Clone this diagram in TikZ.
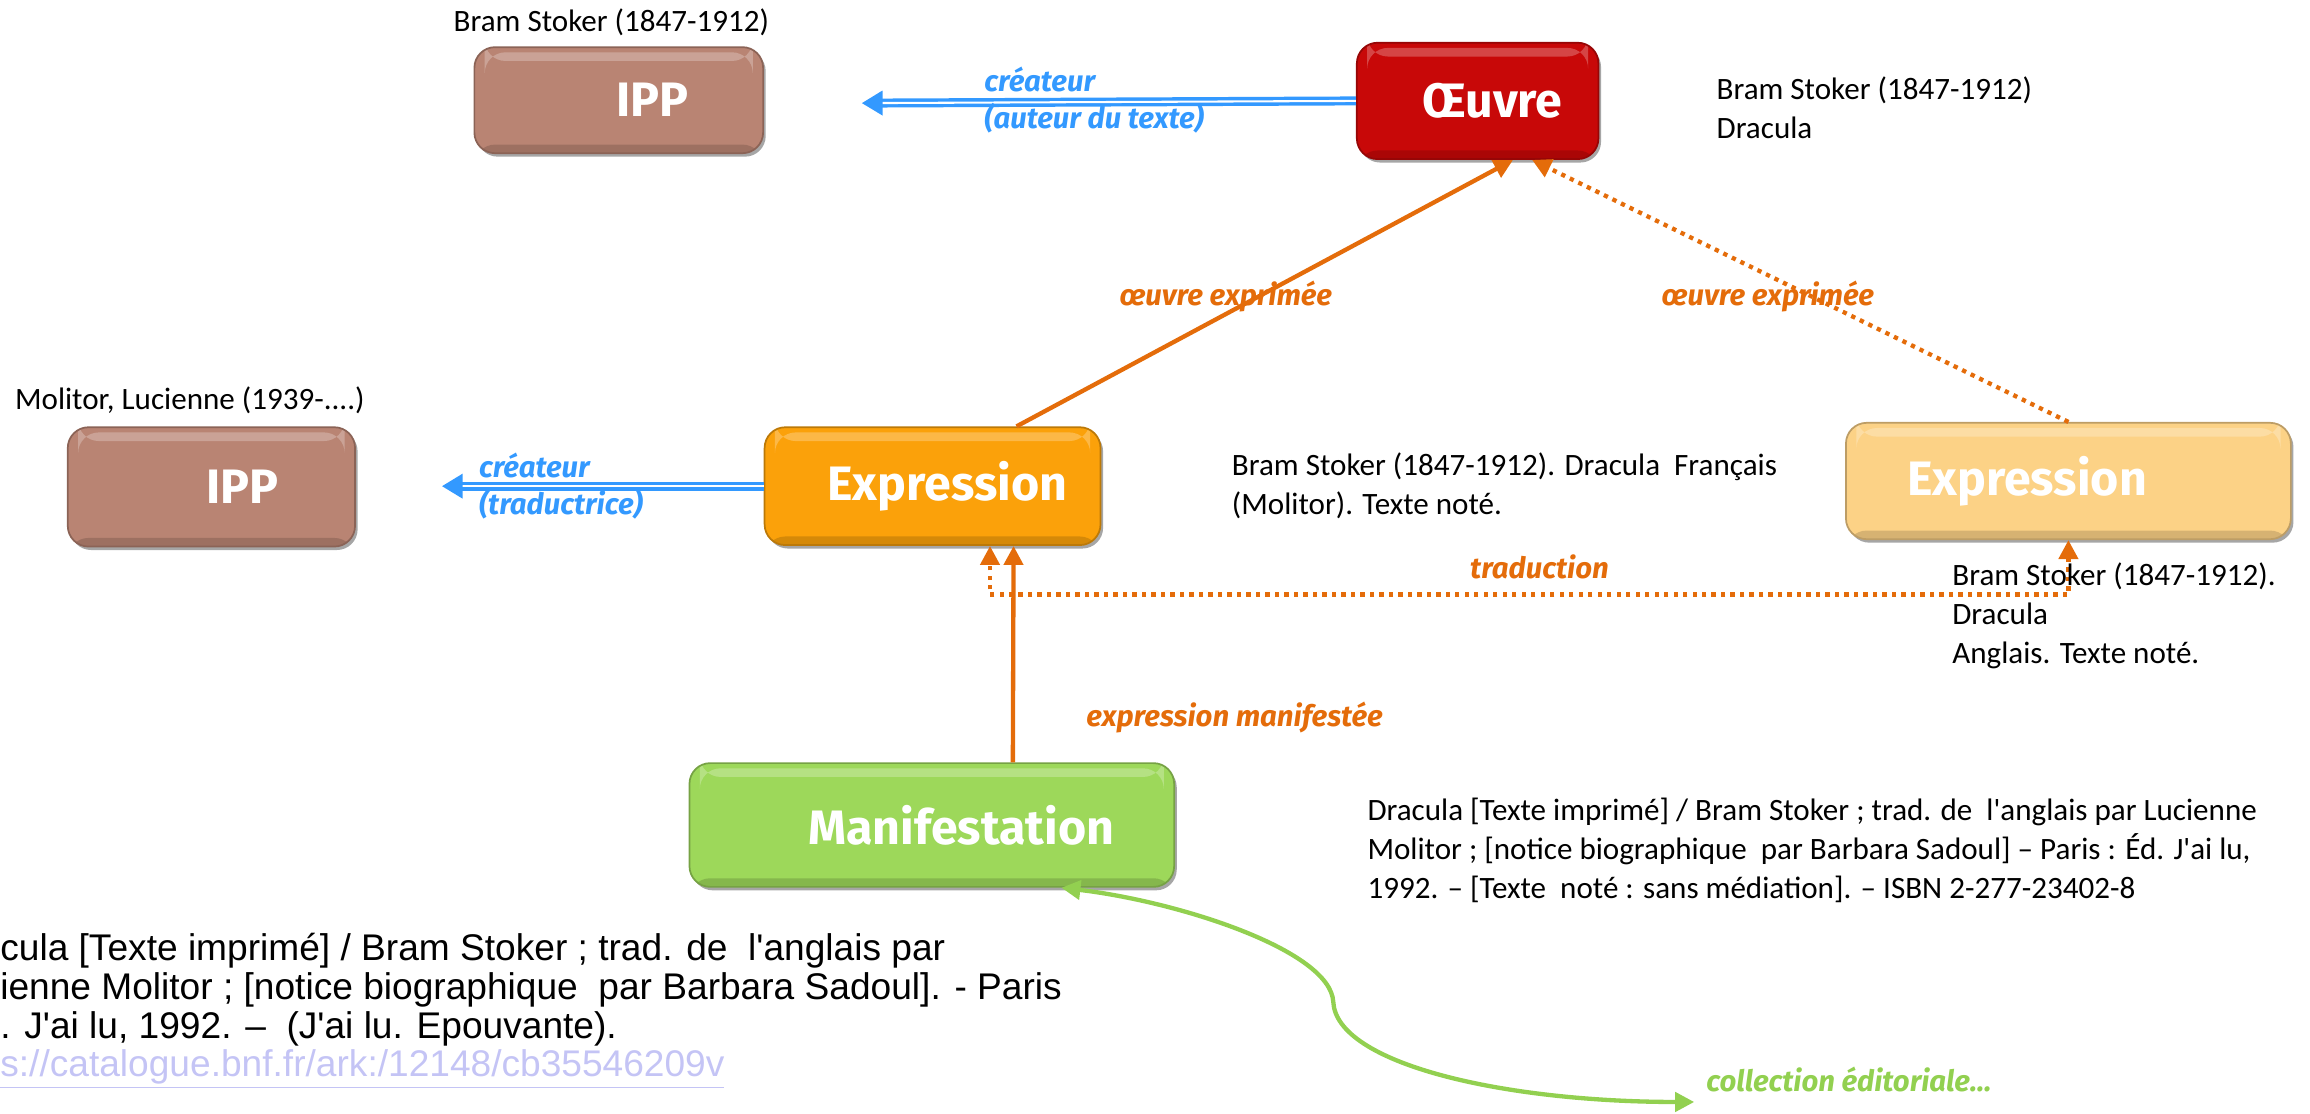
\documentclass[tikz,border=0pt]{standalone}
\usepackage{fontspec}
\setmainfont{Carlito}[Ligatures=TeXOff]
\newfontfamily\comicfont{Fira Sans}[Ligatures=TeXOff]
\newfontfamily\arialfont{Liberation Sans}[Ligatures=TeXOff]
\usepackage{tikz}
\usetikzlibrary{calc}
\usetikzlibrary{shapes.geometric, arrows.meta, positioning, shadows}

\definecolor{ippbrown}{RGB}{185,132,115}
\definecolor{oeuvrered}{RGB}{200,8,8}
\definecolor{exprorange}{RGB}{251,161,10}
\definecolor{exprpale}{RGB}{252,210,134}
\definecolor{manifgreen}{RGB}{157,216,90}
\definecolor{linkorange}{RGB}{228,108,10}
\definecolor{linkblue}{RGB}{51,153,255}
\definecolor{linkgreen}{RGB}{146,208,80}
\definecolor{urllavender}{RGB}{196,196,245}

\tikzset{
  entity/.style={rectangle, rounded corners=12pt, fill=#1, draw=#1!75!black, line width=1pt,
    drop shadow={shadow xshift=1.5pt, shadow yshift=-2pt, fill=black, opacity=0.35},
    path picture={
      \fill[white, opacity=0.25] ($(path picture bounding box.north west)+(6pt,-3pt)$) rectangle ($(path picture bounding box.north east)+(-6pt,-8pt)$);
      \fill[black, opacity=0.15] ($(path picture bounding box.south west)+(0pt,0pt)$) rectangle ($(path picture bounding box.south east)+(0pt,5pt)$);
    }},
  entitytext/.style={text=white, font=\comicfont\bfseries\fontsize{28}{32}\selectfont},
  rellabel/.style={font=\comicfont\bfseries\itshape\fontsize{17}{21}\selectfont, align=left},
  note/.style={font=\fontsize{18}{22.5}\selectfont, align=left, inner sep=0pt},
  catnote/.style={font=\arialfont\fontsize{21.5}{22.5}\selectfont, align=left, inner sep=0pt},
  creator/.style={draw=linkblue, line width=2pt, double=white, double distance=1.2pt, -{Triangle[length=12pt, width=14pt]}},
  realize/.style={draw=linkorange, line width=2.5pt, -{Triangle[length=11pt, width=11pt]}},
  dotline/.style={dash pattern=on 2.5pt off 3pt},
  collection/.style={draw=linkgreen, line width=2.5pt, {Triangle[length=11pt, width=11pt]}-{Triangle[length=11pt, width=11pt]}}
}

\newcommand{\entitybox}[8]{ % #1: name, #2: x, #3: y, #4: width, #5: height, #6: colour, #7: text shift, #8: text
  \node[entity=#6, minimum width=#4*0.03cm, minimum height=#5*0.03cm] (#1) at (#2,#3) {}; % the box
  \node[entitytext] (#1-text) at ($(#1.center)+(#7,0)$) {#8}; % its white label
}

\begin{document}
\begin{tikzpicture}[x=0.03cm, y=-0.03cm]
\useasboundingbox (0,0) rectangle (1568,756);

% Boxes
\entitybox{ippauteur}{420}{68}{196}{72}{ippbrown}{23}{IPP}
\entitybox{oeuvre}{1003}{68.5}{164}{79}{oeuvrered}{10}{Œuvre}
\entitybox{ipptrad}{143.5}{330.5}{195}{81}{ippbrown}{21}{IPP}
\entitybox{exprfr}{633}{330}{228}{80}{exprorange}{10}{Expression}
\entitybox{expren}{1404}{326.5}{302}{79}{exprpale}{-28}{Expression}
\entitybox{manif}{632.5}{560}{329}{84}{manifgreen}{20}{Manifestation}

% créateur (auteur du texte)
\coordinate (auteurend) at (585,70);
\draw[creator] (oeuvre.west) -- (auteurend);
\node[rellabel, text=linkblue, anchor=west] (auteurlabel) at (664,68) {créateur\\(auteur du texte)};

% créateur (traductrice)
\coordinate (tradend) at (300,330);
\draw[creator] (exprfr.west) -- (tradend);
\node[rellabel, text=linkblue, anchor=west] (tradlabel) at (321,330) {créateur\\(traductrice)};

% œuvre exprimée, solid from the French expression
\draw[realize] ($(exprfr.north)+(57,0)$) -- ($(oeuvre.south)+(24,0)$);
\node[rellabel, text=linkorange] (exprfrlabel) at (832,201) {œuvre exprimée};

% œuvre exprimée, dotted from the English expression
\draw[realize, dotline] (expren.north) -- ($(oeuvre.south)+(37,0)$);
\node[rellabel, text=linkorange] (exprenlabel) at (1200,201) {œuvre exprimée};

% traduction
\draw[realize, dotline, {Triangle[length=11pt, width=11pt]}-{Triangle[length=11pt, width=11pt]}] (expren.south) -- ++(0,37) -| ($(exprfr.south)+(39,0)$);
\node[rellabel, text=linkorange] (tradulabel) at (1045,385) {traduction};

% expression manifestée
\draw[realize] ($(manif.north)+(55,0)$) -- ($(exprfr.south)+(55,0)$);
\node[rellabel, text=linkorange] (maniflabel) at (838,487) {expression manifestée};

% collection éditoriale
\coordinate (collend) at (1150,748);
\draw[collection] ($(manif.south)+(88,0)$) .. controls (800,612) and (903,645) .. (905,680) .. controls (907,722) and (1020,748) .. (collend);
\node[rellabel, text=linkgreen] (colllabel) at (1255,733) {collection éditoriale…};

% Notices
\node[note] (stokername) at (415,15) {Bram Stoker (1847-1912)};
\node[note, anchor=west] (oeuvrenote) at (1165,73) {Bram Stoker (1847-1912)\\Dracula};
\node[note, anchor=west] (molitorname) at (10,272) {Molitor, Lucienne (1939-....)};
\node[note, anchor=west] (exprfrnote) at (836,330) {Bram Stoker (1847-1912). Dracula\ \ Français\\(Molitor). Texte noté.};
\node[note, anchor=west] (exprennote) at (1325,418) {Bram Stoker (1847-1912).\\Dracula\\Anglais. Texte noté.};
\node[note, anchor=west] (manifnote) at (928,577) {Dracula [Texte imprimé] / Bram Stoker ; trad. de\ \ l'anglais par Lucienne\\Molitor ; [notice biographique\ \ par Barbara Sadoul] – Paris : Éd. J'ai lu,\\1992. – [Texte\ \ noté : sans médiation]. – ISBN 2-277-23402-8};
\node[catnote, anchor=west] (catalogue) at (0,686) {cula [Texte imprimé] / Bram Stoker ; trad. de\ \ l'anglais par\\ienne Molitor ; [notice biographique\ \ par Barbara Sadoul]. - Paris\\. J'ai lu, 1992. –\ \ (J'ai lu. Epouvante).\\\textcolor{urllavender}{\underline{s://catalogue.bnf.fr/ark:/12148/cb35546209v}}};

\end{tikzpicture}
\end{document}
